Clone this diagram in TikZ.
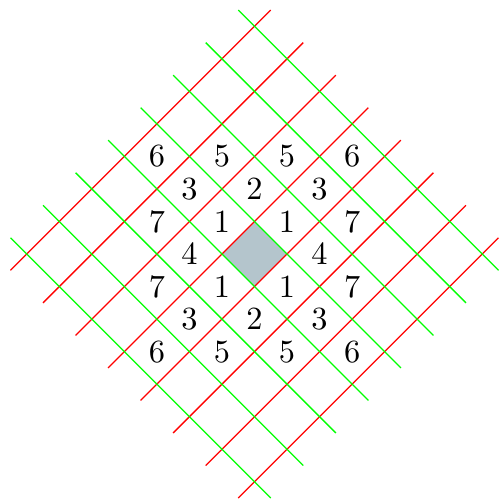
\documentclass[tikz,border=0pt]{standalone}
\definecolor{cellfill}{RGB}{180,197,204}
\begin{document}
\begin{tikzpicture}[
    redline/.style={red},
    greenline/.style={green},
    num/.style={inner sep=0pt, font=\normalsize}
]
    \useasboundingbox (-2.766,-2.663) rectangle (2.679,2.761);
    \begin{scope}[rotate=45, x=0.5cm, y=0.5cm]
    % 1. Shaded centre cell
    \fill[cellfill] (-0.5,-0.5) rectangle (0.5,0.5);

    % 2. Red lines (one direction)
    \draw[redline] (-4, 3.5) -- (4, 3.5);
    \draw[redline] (-4, 2.5) -- (4, 2.5);
    \draw[redline] (-4, 1.5) -- (4, 1.5);
    \draw[redline] (-4, 0.5) -- (4, 0.5);
    \draw[redline] (-4,-0.5) -- (4,-0.5);
    \draw[redline] (-4,-1.5) -- (4,-1.5);
    \draw[redline] (-4,-2.5) -- (4,-2.5);
    \draw[redline] (-4,-3.5) -- (4,-3.5);

    % 3. Green lines (other direction)
    \draw[greenline] ( 3.5,-4) -- ( 3.5,4);
    \draw[greenline] ( 2.5,-4) -- ( 2.5,4);
    \draw[greenline] ( 1.5,-4) -- ( 1.5,4);
    \draw[greenline] ( 0.5,-4) -- ( 0.5,4);
    \draw[greenline] (-0.5,-4) -- (-0.5,4);
    \draw[greenline] (-1.5,-4) -- (-1.5,4);
    \draw[greenline] (-2.5,-4) -- (-2.5,4);
    \draw[greenline] (-3.5,-4) -- (-3.5,4);

    % 4. Labels round the centre cell
    \node[num] (one-a) at ( 0, 1) {1};
    \node[num] (one-b) at ( 1, 0) {1};
    \node[num] (one-c) at (-1, 0) {1};
    \node[num] (one-d) at ( 0,-1) {1};

    \node[num] (two-a) at ( 1, 1) {2};
    \node[num] (two-b) at (-1,-1) {2};
    \node[num] (four-a) at (-1, 1) {4};
    \node[num] (four-b) at ( 1,-1) {4};

    \node[num] (three-a) at ( 0, 2) {3};
    \node[num] (three-b) at ( 2, 0) {3};
    \node[num] (three-c) at (-2, 0) {3};
    \node[num] (three-d) at ( 0,-2) {3};

    \node[num] (five-a) at ( 1, 2) {5};
    \node[num] (five-b) at ( 2, 1) {5};
    \node[num] (five-c) at (-2,-1) {5};
    \node[num] (five-d) at (-1,-2) {5};

    \node[num] (seven-a) at (-1, 2) {7};
    \node[num] (seven-b) at ( 2,-1) {7};
    \node[num] (seven-c) at (-2, 1) {7};
    \node[num] (seven-d) at ( 1,-2) {7};

    \node[num] (six-a) at ( 0, 3) {6};
    \node[num] (six-b) at ( 3, 0) {6};
    \node[num] (six-c) at (-3, 0) {6};
    \node[num] (six-d) at ( 0,-3) {6};
    \end{scope}
\end{tikzpicture}
\end{document}
